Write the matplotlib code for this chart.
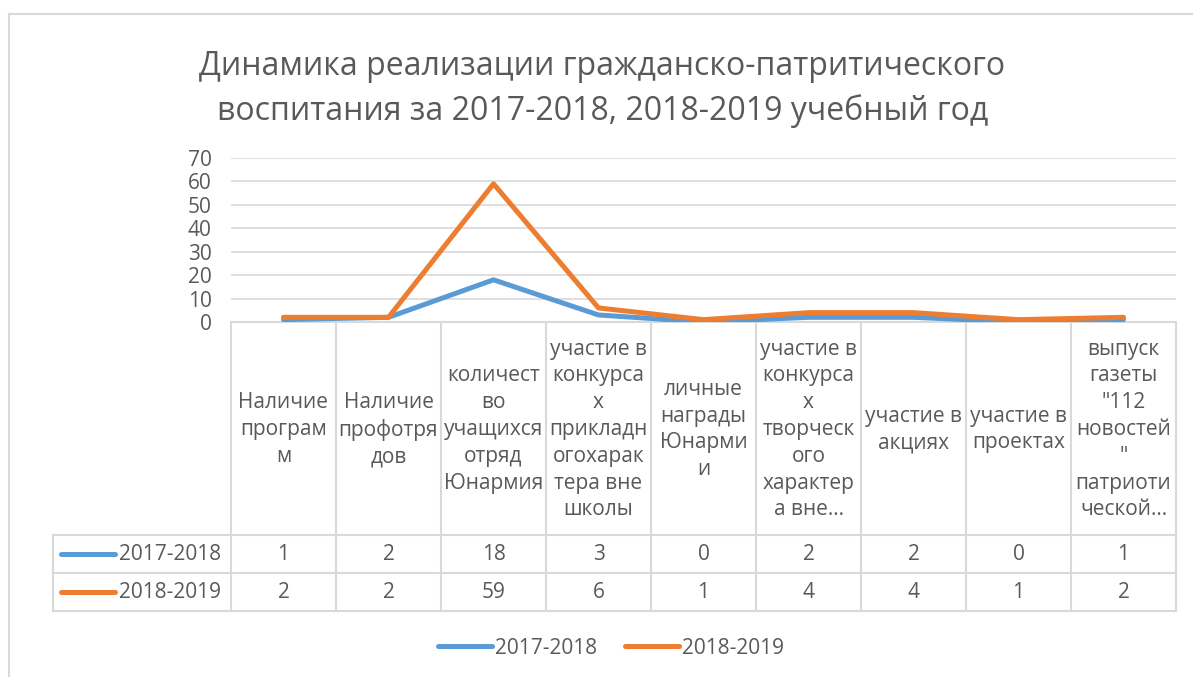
import matplotlib
matplotlib.use("Agg")
import matplotlib.pyplot as plt
from matplotlib.lines import Line2D

plt.rcParams['font.family'] = ['Open Sans', 'DejaVu Sans']

title = "Динамика реализации гражданско-патритического\nвоспитания за 2017-2018, 2018-2019 учебный год"
categories = [
    "Наличие\nпрограм\nм",
    "Наличие\nпрофотря\nдов",
    "количест\nво\nучащихся\nотряд\nЮнармия",
    "участие в\nконкурса\nх\nприкладн\nогохарак\nтера вне\nшколы",
    "личные\nнаграды\nЮнарми\nи",
    "участие в\nконкурса\nх\nтворческ\nого\nхарактер\nа вне…",
    "участие в\nакциях",
    "участие в\nпроектах",
    "выпуск\nгазеты\n\"112\nновостей\n\"\nпатриоти\nческой…",
]
series_names = ["2017-2018", "2018-2019"]
values_2017 = [1, 2, 18, 3, 0, 2, 2, 0, 1]
values_2018 = [2, 2, 59, 6, 1, 4, 4, 1, 2]
y_ticks = [0, 10, 20, 30, 40, 50, 60, 70]

colors = ["#5B9BD5", "#ED7D31"]
text_c = "#595959"
grid_c = "#D9D9D9"
W, H = 1193, 677
fs = 15

fig = plt.figure(figsize=(W / 100, H / 100), dpi=100)
L, R, T, B = 231, 1176, 158, 322
ax = fig.add_axes([L / W, 1 - B / H, (R - L) / W, (B - T) / H])

x = list(range(len(categories)))
for vals, c, name in zip([values_2017, values_2018], colors, series_names):
    ax.plot(x, vals, color=c, lw=3.6, solid_capstyle='round', solid_joinstyle='round', label=name, zorder=3)

ax.set_xlim(-0.5, len(categories) - 0.5)
ax.set_ylim(0, 70)
ax.set_yticks(y_ticks)
ax.set_xticks([])
ax.yaxis.grid(True, color=grid_c, lw=1.2)
ax.set_axisbelow(True)
for s in ax.spines.values():
    s.set_visible(False)
ax.tick_params(axis='y', length=0, labelsize=fs, labelcolor=text_c, pad=14)

# table geometry (axes fractions)
ph = B - T
def ay(py):
    return -(py - B) / ph
def ax_x(px):
    return (px - L) / (R - L)

hdr_bot, r1_bot, r2_bot = 535, 573, 611
tr = ax.get_xaxis_transform()
n = len(categories)
tbl_lw = 1.5
for i in range(n + 1):
    ax.plot([i - 0.5, i - 0.5], [0, ay(r2_bot)], transform=tr, color=grid_c, lw=tbl_lw, clip_on=False)
ax.plot([-0.5, n - 0.5], [0, 0], transform=tr, color=grid_c, lw=tbl_lw, clip_on=False)
for py in [hdr_bot, r1_bot, r2_bot]:
    ax.plot([ax_x(53), 1], [ay(py), ay(py)], transform=ax.transAxes, color=grid_c, lw=tbl_lw, clip_on=False)
ax.plot([ax_x(53), ax_x(53)], [ay(hdr_bot), ay(r2_bot)], transform=ax.transAxes, color=grid_c, lw=tbl_lw, clip_on=False)

for i, lab in enumerate(categories):
    ax.text(i, ay((B + hdr_bot) / 2 + 1), lab, transform=tr, ha='center', va='center',
            fontsize=fs, color=text_c, linespacing=1.36, clip_on=False)

rows = [(values_2017, (hdr_bot + r1_bot) / 2), (values_2018, (r1_bot + r2_bot) / 2)]
for k, (vals, cy) in enumerate(rows):
    for i, v in enumerate(vals):
        ax.text(i, ay(cy), str(v), transform=tr, ha='center', va='center', fontsize=fs, color=text_c)
    ax.plot([ax_x(61), ax_x(115)], [ay(cy), ay(cy)], transform=ax.transAxes, color=colors[k],
            lw=3.6, solid_capstyle='round', clip_on=False)
    ax.text(ax_x(119), ay(cy), series_names[k], transform=ax.transAxes, ha='left', va='center',
            fontsize=fs, color=text_c)

fig.text(0.505, 1 - 89 / H, title, ha='center', va='center', fontsize=23, color=text_c, linespacing=1.4)

handles = [Line2D([0], [0], color=c, lw=3.6, solid_capstyle='round') for c in colors]
fig.legend(handles, series_names, loc='center', bbox_to_anchor=(611 / W, 1 - 648 / H), ncol=2,
           frameon=False, fontsize=fs, labelcolor=text_c, handlelength=2.6, handletextpad=0.12,
           columnspacing=1.35)

fig.add_artist(Line2D([9 / W, 9 / W], [0, 1 - 14 / H], color=grid_c, lw=1.5))
fig.add_artist(Line2D([9 / W, 1], [1 - 14 / H, 1 - 14 / H], color=grid_c, lw=1.5))

fig.savefig("out.png", dpi=100)
